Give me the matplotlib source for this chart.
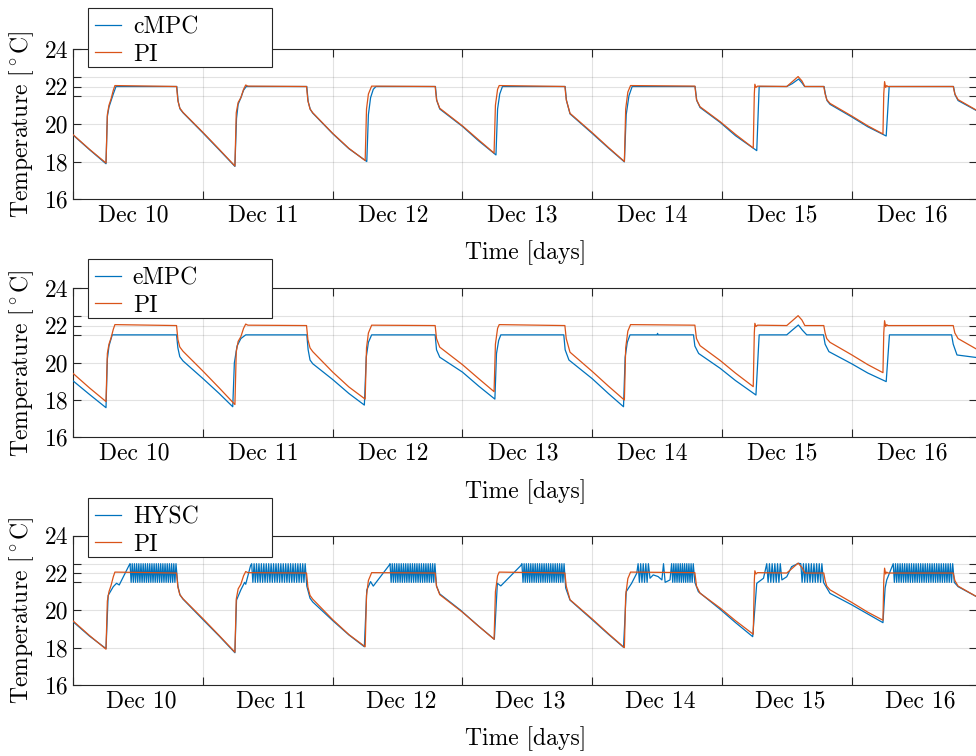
import numpy as np
import pandas as pd
import matplotlib
matplotlib.use("Agg")
import matplotlib.pyplot as plt
import matplotlib.dates as mdates
from matplotlib.patches import Rectangle

plt.rcParams['font.family'] = ['cmr10', 'DejaVu Serif']
plt.rcParams['mathtext.fontset'] = 'cm'
plt.rcParams['axes.formatter.use_mathtext'] = True

START = pd.Timestamp("2019-12-10")
BLUE = '#0072BD'
ORANGE = '#D95319'
AXC = '#262626'
FS = 17

# ---- data: hours since Dec 10 00:00, temperature [degC] ----
# PI (same reference controller in all three panels)
pi_h = [0, 3.0, 6.05, 6.3, 6.6, 7.0, 7.4, 7.7, 19.1, 19.35, 19.7, 20.3, 24.0, 27.0, 29.9,
        30.15, 30.5, 31.0, 31.5, 31.9, 32.3, 43.15, 43.4, 43.8, 44.3, 48.0, 51.0, 54.0,
        54.25, 54.6, 55.2, 66.95, 67.2, 67.8, 72.0, 75.0, 77.85,
        78.1, 78.5, 78.8, 90.95, 91.2, 91.9, 96.0, 99.0, 101.96,
        102.2, 102.6, 103.1, 115.0, 115.3, 115.96, 119.7, 122.5, 125.8,
        126.0, 126.1, 126.3, 126.6, 132.0, 133.0, 134.1, 134.8, 135.35, 138.85, 139.1, 139.4, 140.0, 144.0, 147.0, 149.8,
        149.95, 150.1, 150.3, 150.5, 150.7, 162.8, 163.1, 163.7, 167.2]
pi_T = [19.42, 18.65, 17.92, 20.5, 21.0, 21.35, 21.8, 22.05, 22.0, 21.25, 20.85, 20.62, 19.55, 18.65, 17.76,
        20.6, 21.15, 21.4, 21.85, 22.08, 22.02, 22.0, 21.25, 20.8, 20.6, 19.5, 18.7, 18.05,
        20.8, 21.6, 22.02, 22.0, 21.3, 20.84, 19.9, 19.15, 18.45,
        21.0, 21.85, 22.05, 22.0, 21.3, 20.57, 19.54, 18.75, 18.0,
        20.8, 21.7, 22.05, 22.02, 21.3, 20.92, 20.12, 19.45, 18.72,
        21.6, 22.12, 21.95, 22.02, 22.0, 22.25, 22.53, 22.3, 22.0, 22.0, 21.6, 21.3, 21.1, 20.43, 19.9, 19.47,
        21.6, 22.26, 21.95, 22.05, 22.0, 22.0, 21.6, 21.3, 20.72]

cmpc_h = [0, 3.0, 6.05, 6.3, 6.6, 7.0, 7.4, 7.9, 19.15, 19.4, 19.75, 20.3, 24.0, 27.0, 29.9,
          30.2, 30.5, 31.0, 31.5, 32.0, 43.2, 43.45, 43.85, 44.3, 48.0, 51.0, 54.3,
          54.6, 55.0, 55.5, 56.0, 67.0, 67.25, 67.8, 72.0, 75.0, 78.2,
          78.5, 78.9, 79.4, 91.0, 91.25, 91.9, 96.0, 99.0, 101.96,
          102.3, 102.8, 103.4, 115.05, 115.35, 115.96, 119.7, 122.5, 126.45,
          126.9, 132.0, 133.0, 134.2, 134.8, 135.3, 138.9, 139.15, 139.45, 140.0, 144.0, 147.0, 150.4,
          150.95, 162.85, 163.15, 163.7, 167.2]
cmpc_T = [19.4, 18.63, 17.88, 20.4, 20.9, 21.25, 21.6, 22.0, 22.0, 21.2, 20.8, 20.6, 19.52, 18.62, 17.74,
          20.3, 21.05, 21.4, 21.8, 22.0, 22.0, 21.2, 20.78, 20.58, 19.48, 18.68, 18.0,
          20.5, 21.4, 21.85, 22.0, 22.0, 21.25, 20.8, 19.87, 19.1, 18.35,
          20.8, 21.6, 22.0, 22.0, 21.25, 20.54, 19.5, 18.72, 17.98,
          20.5, 21.5, 22.0, 22.0, 21.25, 20.88, 20.08, 19.38, 18.58,
          22.0, 22.0, 22.15, 22.4, 22.2, 22.0, 22.0, 21.6, 21.25, 21.05, 20.38, 19.85, 19.36,
          22.0, 22.0, 21.55, 21.25, 20.7]

empc_h = [0, 3.0, 6.05, 6.3, 6.6, 7.2, 19.1, 19.35, 19.7, 20.3, 24.0, 27.0, 29.5,
          29.8, 30.3, 31.0, 31.9, 43.2, 43.45, 43.8, 44.3, 48.0, 51.0, 53.85,
          54.2, 54.6, 55.2, 66.95, 67.2, 67.8, 72.0, 75.0, 78.0,
          78.3, 78.7, 79.1, 90.75, 91.0, 91.7, 96.0, 99.0, 101.8,
          102.1, 102.5, 103.0, 108.0, 108.1, 108.2, 114.75, 115.0, 115.7, 119.7, 122.5, 126.3,
          126.9, 132.0, 133.0, 134.15, 134.9, 135.7, 138.8, 139.1, 139.8, 144.0, 147.0, 150.4,
          151.0, 162.5, 162.8, 163.5, 167.2]
empc_T = [19.02, 18.3, 17.59, 20.2, 20.9, 21.5, 21.5, 20.8, 20.33, 20.1, 19.15, 18.35, 17.64,
          20.0, 20.9, 21.3, 21.5, 21.5, 20.7, 20.15, 19.95, 19.1, 18.35, 17.73,
          20.3, 21.1, 21.5, 21.5, 20.7, 20.3, 19.5, 18.75, 18.05,
          20.5, 21.2, 21.5, 21.5, 20.7, 20.15, 19.15, 18.35, 17.64,
          20.3, 21.1, 21.5, 21.5, 21.58, 21.5, 21.5, 20.9, 20.5, 19.7, 19.05, 18.27,
          21.5, 21.5, 21.75, 22.03, 21.75, 21.5, 21.5, 21.0, 20.6, 19.95, 19.45, 18.99,
          21.5, 21.5, 21.0, 20.42, 20.28]

# hysteresis controller: smooth parts ...
hysc_h = [0, 3.0, 6.05, 6.45, 7.4, 8.0, 8.5, 10.3,
          19.35, 19.75, 20.3, 24.0, 27.0, 29.9,
          30.2, 31.0, 31.45, 31.7, 31.9, 32.8,
          43.2, 43.8, 44.3, 48.0, 51.0, 53.85,
          54.3, 55.0, 55.5, 58.4,
          67.2, 67.8, 71.6, 75.0, 77.9,
          78.46, 79.1, 82.8,
          91.1, 91.9, 96.0, 99.0, 101.8,
          102.3, 103.3, 104.25,
          106.7, 107.3, 108.2, 108.9, 109.2, 109.5, 110.4,
          115.0, 115.65, 119.7, 122.5, 125.7,
          126.45, 127.7,
          131.1, 132.0, 132.9, 134.15,
          138.8, 139.2, 140.0, 144.0, 147.0, 149.8,
          150.2, 150.5,
          163.0, 163.7, 167.2]
hysc_T = [19.38, 18.62, 17.95, 20.8, 21.27, 21.45, 21.36, 22.4,
          21.3, 20.82, 20.6, 19.5, 18.62, 17.73,
          20.55, 21.1, 21.36, 21.5, 21.4, 22.4,
          21.3, 20.65, 20.45, 19.45, 18.68, 18.05,
          21.09, 21.54, 21.3, 22.4,
          21.3, 20.88, 20.02, 19.15, 18.45,
          21.45, 21.31, 22.4,
          21.2, 20.55, 19.5, 18.72, 18.02,
          21.0, 21.45, 21.99,
          21.72, 21.9, 21.81, 21.63, 22.5, 21.5, 21.63,
          21.5, 21.0, 20.05, 19.35, 18.59,
          21.45, 21.72,
          21.63, 21.8, 22.34, 22.52,
          21.5, 21.3, 20.91, 20.3, 19.8, 19.34,
          21.2, 21.63,
          21.5, 21.27, 20.72]
# ... and the on/off chattering bursts: (start h, end h, number of cycles)
hysc_bursts = [(10.5, 19.0, 21), (33.0, 42.9, 22), (58.6, 66.9, 20), (83.0, 90.8, 19),
               (104.5, 106.4, 4), (110.7, 114.7, 10), (128.3, 130.8, 5),
               (134.6, 138.5, 8), (151.7, 162.7, 26)]
hys_lo, hys_hi = 21.5, 22.5

day_labels = ['Dec 10', 'Dec 11', 'Dec 12', 'Dec 13', 'Dec 14', 'Dec 15', 'Dec 16']
yticks = [16, 18, 20, 21.5, 22, 22.5, 24]
ytick_labels = ['16', '18', '20', '', '22', '', '24']


def to_time(hours):
    return (START + pd.to_timedelta(np.asarray(hours, dtype=float), unit='h')).to_numpy()


def hysc_series():
    h = list(hysc_h)
    T = list(hysc_T)
    for t0, t1, n in hysc_bursts:
        ts = np.linspace(t0, t1, 2 * n + 1)
        for i, t in enumerate(ts):
            h.append(t)
            T.append(hys_hi if i % 2 == 0 else hys_lo)
    order = np.argsort(h)
    return np.array(h)[order], np.array(T)[order]


fig = plt.figure(figsize=(9.76, 7.56), dpi=100)
W, H = 976.0, 756.0

# axes box in pixels: top, bottom
panels = [
    dict(top=49.0, bot=199.0, name='cMPC', lab_shift=-0.87, leg_top=8.0),
    dict(top=288.3, bot=437.3, name='eMPC', lab_shift=-0.80, leg_top=259.0),
    dict(top=535.7, bot=685.0, name='HYSC', lab_shift=0.61, leg_top=498.0),
]
left_px, right_px = 73.3, 977.0

hh, hT = hysc_series()
ctrl = [(cmpc_h, cmpc_T), (empc_h, empc_T), (hh, hT)]

for p, (ch, cT) in zip(panels, ctrl):
    ax = fig.add_axes([left_px / W, 1 - p['bot'] / H, (right_px - left_px) / W,
                       (p['bot'] - p['top']) / H])
    l1, = ax.plot(to_time(ch), cT, color=BLUE, lw=0.9, zorder=3)
    l2, = ax.plot(to_time(pi_h), pi_T, color=ORANGE, lw=0.9, zorder=4)

    ax.set_xlim(START, START + pd.Timedelta(hours=167.2))
    ax.set_ylim(16, 24)
    ax.set_yticks(yticks)
    ax.set_yticklabels(ytick_labels)

    ax.xaxis.set_major_locator(mdates.DayLocator())
    ax.xaxis.set_major_formatter(plt.NullFormatter())
    lab_pos = [mdates.date2num(START + pd.Timedelta(hours=24 * d + 12 + p['lab_shift']))
               for d in range(len(day_labels))]
    ax.xaxis.set_minor_locator(plt.FixedLocator(lab_pos))
    ax.xaxis.set_minor_formatter(plt.FixedFormatter(day_labels))

    ax.tick_params(which='major', direction='in', length=6, width=0.8, color=AXC,
                   top=True, right=True, labelsize=FS, labelcolor='black')
    ax.tick_params(which='minor', length=0, labelsize=FS, labelcolor='black', pad=4)
    ax.grid(True, which='major', color=AXC, alpha=0.13, lw=0.8)
    ax.set_axisbelow(True)
    for s in ax.spines.values():
        s.set_color(AXC)
        s.set_linewidth(0.8)

    ax.set_xlabel('Time [days]', fontsize=FS, labelpad=10)
    ax.set_ylabel(r'Temperature [$^\circ$C]', fontsize=FS, labelpad=6)

    # legend box (drawn over the top spine)
    x0, y0 = 88.0 / W, 1 - (p['leg_top'] + 58.7) / H
    box = Rectangle((x0, y0), 184.0 / W, 58.7 / H, transform=fig.transFigure,
                    facecolor='white', edgecolor=AXC, lw=0.8, zorder=3)
    fig.add_artist(box)
    leg = fig.legend([l1, l2], [p['name'], 'PI'], loc='upper left',
                     bbox_to_anchor=(88.0 / W, 1 - (p['leg_top'] + 1.5) / H),
                     bbox_transform=fig.transFigure, frameon=False, fontsize=FS,
                     borderpad=0.3, borderaxespad=0, handlelength=1.1,
                     handletextpad=0.5, labelspacing=0.2)
    leg.set_zorder(4)

fig.savefig('out.png', dpi=100)
